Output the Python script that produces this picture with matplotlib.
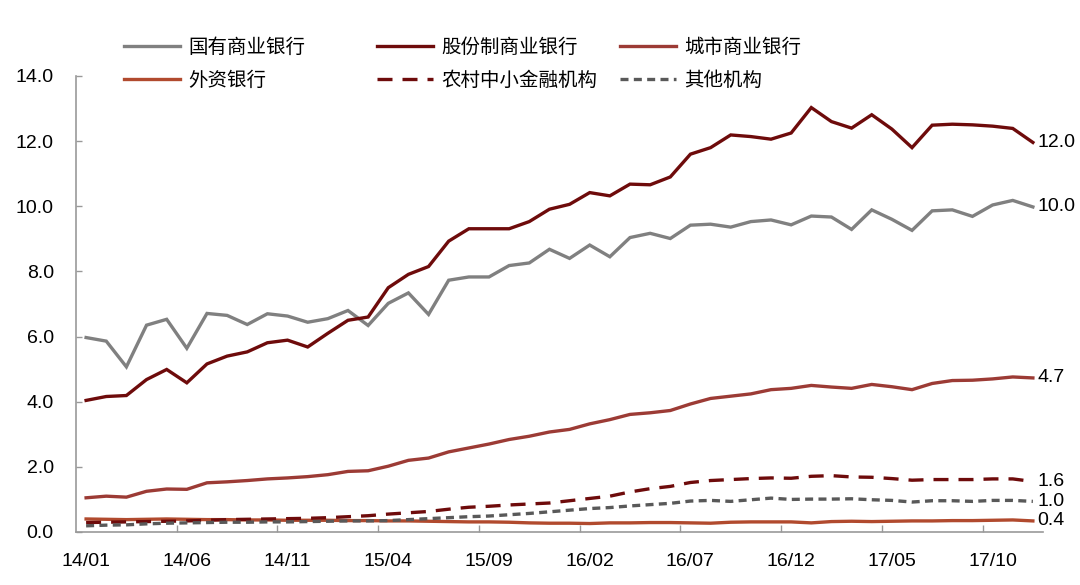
import numpy as np
import pandas as pd
import matplotlib
matplotlib.use("Agg")
import matplotlib.pyplot as plt

plt.rcParams['font.family'] = ['Liberation Sans', 'Noto Sans CJK SC', 'DejaVu Sans']

# monthly categories 14/01 .. 17/12
months = pd.date_range('2014-01-01', periods=48, freq='MS').strftime('%y/%m').tolist()
tick_labels = ['14/01', '14/06', '14/11', '15/04', '15/09', '16/02', '16/07', '16/12', '17/05', '17/10']

soe_banks = [5.97, 5.86, 5.07, 6.35, 6.53, 5.64, 6.71, 6.65, 6.37, 6.70, 6.63, 6.44,
             6.55, 6.80, 6.34, 7.02, 7.34, 6.68, 7.73, 7.83, 7.83, 8.18, 8.26, 8.68,
             8.40, 8.81, 8.45, 9.04, 9.17, 9.01, 9.42, 9.45, 9.36, 9.53, 9.58, 9.43,
             9.70, 9.67, 9.29, 9.89, 9.60, 9.26, 9.86, 9.89, 9.69, 10.04, 10.18, 9.98]
jsb_banks = [4.04, 4.16, 4.19, 4.68, 4.99, 4.58, 5.16, 5.40, 5.53, 5.81, 5.89, 5.68,
             6.10, 6.50, 6.60, 7.50, 7.91, 8.15, 8.93, 9.31, 9.31, 9.31, 9.53, 9.91,
             10.06, 10.42, 10.32, 10.68, 10.66, 10.90, 11.60, 11.80, 12.19, 12.14, 12.06, 12.25,
             13.03, 12.60, 12.40, 12.81, 12.37, 11.80, 12.49, 12.52, 12.50, 12.46, 12.39, 11.96]
city_banks = [1.05, 1.10, 1.07, 1.25, 1.32, 1.31, 1.51, 1.54, 1.58, 1.63, 1.66, 1.70,
              1.76, 1.86, 1.88, 2.02, 2.20, 2.27, 2.46, 2.58, 2.70, 2.84, 2.94, 3.07,
              3.15, 3.32, 3.45, 3.61, 3.66, 3.73, 3.93, 4.10, 4.17, 4.24, 4.37, 4.41,
              4.50, 4.45, 4.41, 4.53, 4.46, 4.37, 4.56, 4.65, 4.66, 4.70, 4.76, 4.73]
foreign_banks = [0.40, 0.39, 0.38, 0.39, 0.40, 0.39, 0.38, 0.38, 0.37, 0.37, 0.36, 0.36,
                 0.36, 0.35, 0.35, 0.34, 0.34, 0.33, 0.32, 0.31, 0.31, 0.30, 0.28, 0.27,
                 0.27, 0.26, 0.28, 0.28, 0.29, 0.29, 0.28, 0.27, 0.30, 0.31, 0.31, 0.31,
                 0.28, 0.32, 0.33, 0.32, 0.33, 0.34, 0.34, 0.35, 0.35, 0.36, 0.37, 0.34]
rural_inst = [0.29, 0.30, 0.31, 0.32, 0.33, 0.34, 0.36, 0.38, 0.39, 0.40, 0.41, 0.42,
              0.44, 0.47, 0.50, 0.55, 0.59, 0.63, 0.70, 0.76, 0.79, 0.83, 0.86, 0.89,
              0.96, 1.03, 1.10, 1.23, 1.33, 1.40, 1.52, 1.58, 1.61, 1.64, 1.66, 1.65,
              1.71, 1.73, 1.69, 1.68, 1.64, 1.59, 1.61, 1.61, 1.61, 1.63, 1.63, 1.55]
other_inst = [0.19, 0.21, 0.22, 0.25, 0.27, 0.28, 0.29, 0.30, 0.30, 0.31, 0.31, 0.32,
              0.33, 0.34, 0.34, 0.35, 0.38, 0.41, 0.44, 0.47, 0.49, 0.53, 0.57, 0.62,
              0.67, 0.72, 0.75, 0.80, 0.84, 0.88, 0.95, 0.97, 0.94, 0.99, 1.04, 1.00,
              1.01, 1.01, 1.02, 0.99, 0.97, 0.92, 0.96, 0.96, 0.94, 0.97, 0.97, 0.94]

end_labels = ['10.0', '12.0', '4.7', '0.4', '1.6', '1.0']

series = [
    ('国有商业银行', soe_banks, '#808080', None),
    ('股份制商业银行', jsb_banks, '#6E0B0B', None),
    ('城市商业银行', city_banks, '#9C3B35', None),
    ('外资银行', foreign_banks, '#B14A2E', None),
    ('农村中小金融机构', rural_inst, '#6E0B0B', (4.5, 3.0)),
    ('其他机构', other_inst, '#595959', (2.4, 1.6)),
]

fig = plt.figure(figsize=(10.8, 5.85), dpi=100)
ax = fig.add_axes([0.0704, 0.0906, 0.8953, 0.7795])

x = np.arange(len(months))
handles = []
for (name, vals, color, dash), lab in zip(series, end_labels):
    line, = ax.plot(x, vals, color=color, lw=2.4, label=name, solid_joinstyle='miter')
    if dash is not None:
        line.set_dashes(dash)
    handles.append(line)
    ax.annotate(lab, xy=(x[-1], vals[-1]), xytext=(3, 0), textcoords='offset points',
                ha='left', va='center', fontsize=14, color='black')

ax.set_xlim(-0.5, len(months) - 0.5)
ax.set_ylim(0, 14)
ax.set_yticks(np.arange(0, 14.1, 2))
ax.set_yticklabels([f'{v:.1f}' for v in np.arange(0, 14.1, 2)])

# tick marks between categories, labels on the categories
ax.set_xticks(np.arange(-0.5, len(months), 5)[1:])
ax.set_xticklabels([])
label_pos = [months.index(t) for t in tick_labels]
ax.set_xticks(label_pos, minor=True)
ax.set_xticklabels(tick_labels, minor=True)
ax.tick_params(axis='x', which='major', direction='in', length=5, width=1, color='#999999')
ax.tick_params(axis='x', which='minor', length=0, pad=15, labelsize=14)
ax.tick_params(axis='y', direction='in', length=4, width=1, color='#999999', pad=16, labelsize=14)

for s in ['top', 'right']:
    ax.spines[s].set_visible(False)
for s in ['left', 'bottom']:
    ax.spines[s].set_color('#999999')
    ax.spines[s].set_linewidth(1.2)

# legend: three columns, two rows
col_x = [124 / 1080, 377 / 1080, 620 / 1080]
order = [(0, 3), (1, 4), (2, 5)]
for cx, (a, b) in zip(col_x, order):
    fig.legend([handles[a], handles[b]], [series[a][0], series[b][0]],
               loc='upper left', bbox_to_anchor=(cx, 0.937), frameon=False,
               borderpad=0, borderaxespad=0, handlelength=2.9, handletextpad=0.4,
               labelspacing=0.62, prop={'family': ['Noto Sans CJK SC'], 'size': 14})

fig.savefig('out.png', dpi=100)
